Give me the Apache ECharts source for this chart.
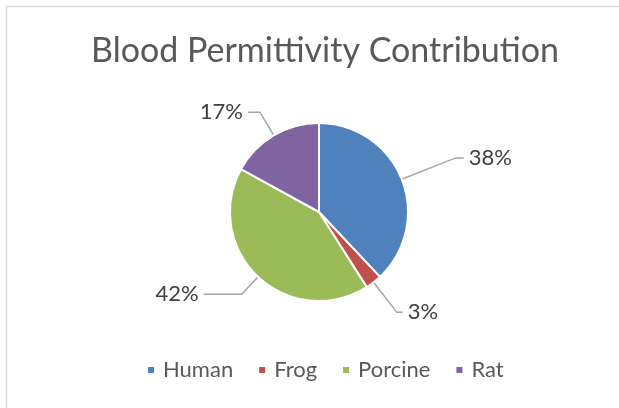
<!DOCTYPE html>
<html>
<head>
<meta charset="utf-8">
<script src="https://cdn.jsdelivr.net/npm/echarts@6/dist/echarts.min.js"></script>
<style>
html,body{margin:0;padding:0;background:#fff;}
#chart{width:619px;height:408px;}
</style>
</head>
<body>
<div id="chart"></div>
<script>
var titleText = 'Blood Permittivity Contribution';
var categories = ['Human', 'Frog', 'Porcine', 'Rat'];
var percentValues = [38, 3, 42, 17];
var sliceColors = ['#4F81BD', '#C0504D', '#9BBB59', '#8064A2'];
var leaderLengths = [58, 38, 24, 27];
var leaderLengths2 = [8, 6, 38, 12];

var chart = echarts.init(document.getElementById('chart'), null, {renderer: 'canvas'});
var pieData = categories.map(function (c, i) {
  return {
    name: c,
    value: percentValues[i],
    itemStyle: {color: sliceColors[i]},
    labelLine: {length: leaderLengths[i], length2: leaderLengths2[i]}
  };
});
chart.setOption({
  backgroundColor: '#ffffff',
  animation: false,
  graphic: [{
    type: 'rect',
    shape: {x: 6.5, y: 6.5, width: 700, height: 500},
    style: {fill: 'none', stroke: '#d9d9d9', lineWidth: 1.5},
    silent: true
  }],
  title: {
    text: titleText,
    left: 86,
    top: 29,
    textStyle: {fontFamily: 'Lato', fontSize: 34, fontWeight: 'normal', color: '#595959'}
  },
  legend: {
    data: categories,
    top: 354,
    left: 141,
    icon: 'path://M0,0h8v8h-8z',
    itemWidth: 14,
    itemHeight: 8,
    itemGap: 24,
    textStyle: {fontFamily: 'Lato', fontSize: 22, color: '#595959'}
  },
  series: [{
    type: 'pie',
    center: [319, 212],
    radius: 89,
    startAngle: 90,
    clockwise: true,
    avoidLabelOverlap: false,
    data: pieData,
    itemStyle: {borderColor: '#ffffff', borderWidth: 2},
    label: {
      show: true,
      formatter: '{d}%',
      fontFamily: 'Lato',
      fontSize: 22,
      color: '#404040'
    },
    labelLine: {
      show: true,
      lineStyle: {color: '#a6a6a6', width: 1.5}
    }
  }]
});
</script>
</body>
</html>
